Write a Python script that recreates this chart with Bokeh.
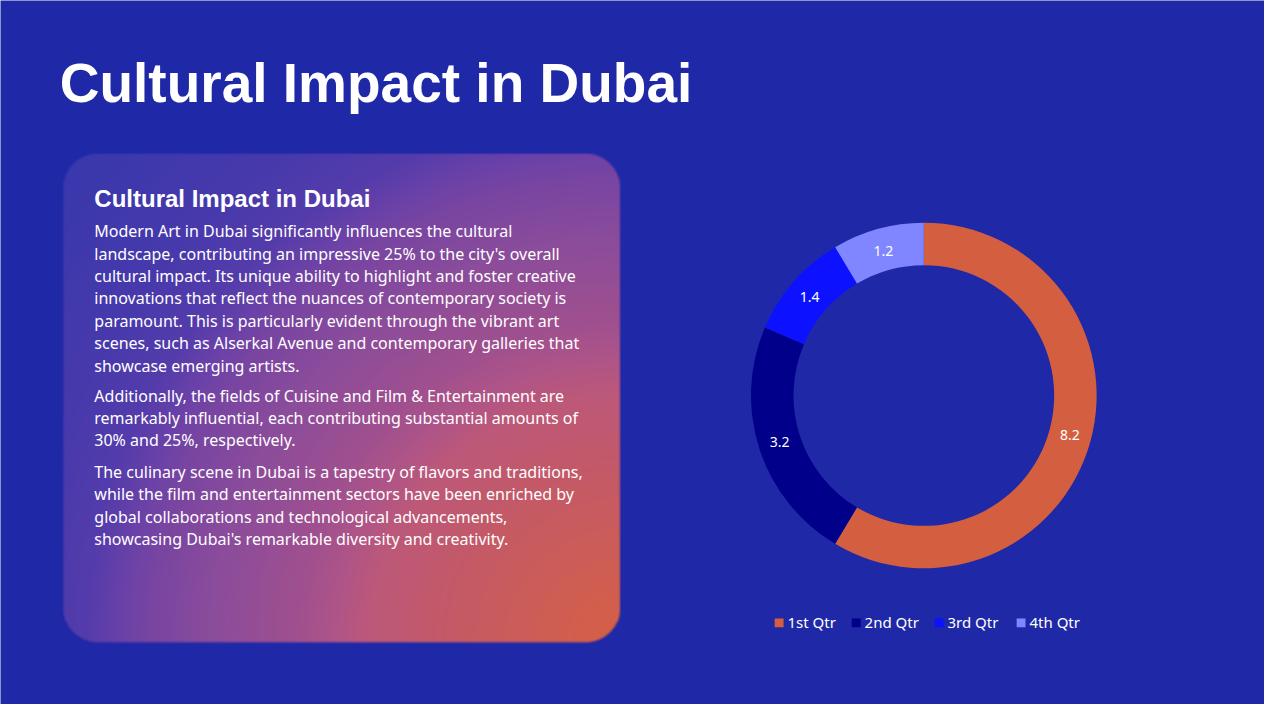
import numpy as np
from bokeh.plotting import figure
from bokeh.models import Range1d
from bokeh.core.properties import value
from bokeh.embed import file_html
from bokeh.resources import INLINE

# --- data ---
quarters = ["1st Qtr", "2nd Qtr", "3rd Qtr", "4th Qtr"]
sales = [8.2, 3.2, 1.4, 1.2]
slice_colors = ["#d35f40", "#00008a", "#0c12ff", "#7f86ff"]

title = "Cultural Impact in Dubai"
card_heading = "Cultural Impact in Dubai"
para1 = [
    "Modern Art in Dubai significantly influences the cultural",
    "landscape, contributing an impressive 25% to the city's overall",
    "cultural impact. Its unique ability to highlight and foster creative",
    "innovations that reflect the nuances of contemporary society is",
    "paramount. This is particularly evident through the vibrant art",
    "scenes, such as Alserkal Avenue and contemporary galleries that",
    "showcase emerging artists.",
]
para2 = [
    "Additionally, the fields of Cuisine and Film & Entertainment are",
    "remarkably influential, each contributing substantial amounts of",
    "30% and 25%, respectively.",
]
para3 = [
    "The culinary scene in Dubai is a tapestry of flavors and traditions,",
    "while the film and entertainment sectors have been enriched by",
    "global collaborations and technological advancements,",
    "showcasing Dubai's remarkable diversity and creativity.",
]

BG = "#1f28a6"
W_SLIDE, H_SLIDE = 1280, 720


def Y(sy):
    # slide y (top-down) -> data y (bottom-up)
    return H_SLIDE - sy


# the whole 1280x720 slide is mapped onto the figure
p = figure(
    width=1264,
    height=704,
    x_range=Range1d(0, W_SLIDE),
    y_range=Range1d(0, H_SLIDE),
    output_backend="svg",
    toolbar_location=None,
    x_axis_location=None,
    y_axis_location=None,
    min_border=0,
    background_fill_color=BG,
    border_fill_color=BG,
    outline_line_color=None,
)
p.grid.visible = False

# --- gradient card (rounded, soft edges), orange glow from the bottom-right ---
cx0, cy0, cw, ch, rad = 62, 156, 566, 502, 36
xs = np.arange(cw) + 0.5
ys = np.arange(ch) + 0.5
X, Yg = np.meshgrid(xs, ys)
d = np.sqrt((cw - X) ** 2 + (ch - Yg) ** 2)
stops = [0, 178, 258, 288, 328, 417, 478, 502, 540, 600, 730]
reds = [215, 196, 188, 176, 160, 138, 120, 108, 85, 72, 58]
greens = [96, 90, 88, 85, 80, 76, 69, 66, 60, 58, 56]
blues = [68, 104, 122, 136, 143, 156, 162, 168, 171, 172, 173]
R = np.interp(d, stops, reds)
G = np.interp(d, stops, greens)
B = np.interp(d, stops, blues)

# rounded rect mask
qx = np.abs(X - cw / 2) - (cw / 2 - rad)
qy = np.abs(Yg - ch / 2) - (ch / 2 - rad)
outside = np.sqrt(np.maximum(qx, 0) ** 2 + np.maximum(qy, 0) ** 2) + np.minimum(np.maximum(qx, qy), 0) - rad
alpha = np.clip((-outside) / 3.0, 0, 1)

img = np.empty((ch, cw), dtype=np.uint32)
view = img.view(dtype=np.uint8).reshape((ch, cw, 4))
view[..., 0] = R.astype(np.uint8)
view[..., 1] = G.astype(np.uint8)
view[..., 2] = B.astype(np.uint8)
view[..., 3] = (alpha * 255).astype(np.uint8)
p.image_rgba(image=[img[::-1]], x=cx0, y=Y(cy0 + ch), dw=cw, dh=ch)

# --- title ---
p.text(x=[60], y=[Y(84)], text=[title], text_font=value("Liberation Sans"),
       text_font_style="bold", text_font_size="55px", text_color="white",
       text_baseline="middle")

# --- card text ---
p.text(x=[95], y=[Y(203)], text=[card_heading], text_font=value("Liberation Sans"),
       text_font_style="bold", text_font_size="24px", text_color="white",
       text_baseline="middle")

body_font = value("Noto Sans")
for lines, top in ((para1, 236), (para2, 404), (para3, 482)):
    p.text(x=[95] * len(lines), y=[Y(top + i * 22.9) for i in range(len(lines))],
           text=lines, text_font=body_font, text_font_size="16px",
           text_color="white", text_baseline="middle")

# --- donut ---
dcx, dcy, r_in, r_out = 935, 404, 132, 175
total = sum(sales)
fracs = np.array(sales) / total
ends = np.cumsum(fracs)
starts = ends - fracs
start_ang = np.pi / 2 - 2 * np.pi * starts
end_ang = np.pi / 2 - 2 * np.pi * ends
p.annular_wedge(x=dcx, y=Y(dcy), inner_radius=r_in, outer_radius=r_out,
                start_angle=start_ang, end_angle=end_ang, direction="clock",
                fill_color=slice_colors, line_color=None)

mid = (start_ang + end_ang) / 2
r_lab = (r_in + r_out) / 2
p.text(x=dcx + r_lab * np.cos(mid), y=Y(dcy) + r_lab * np.sin(mid),
       text=[f"{v:g}" for v in sales], text_font=body_font, text_font_size="14px",
       text_color="white", text_align="center", text_baseline="middle")

# --- legend ---
leg_x = [784, 862, 946, 1029]
p.rect(x=[lx + 4.5 for lx in leg_x], y=[Y(636.5)] * 4, width=9, height=9,
       fill_color=slice_colors, line_color=None)
p.text(x=[lx + 13 for lx in leg_x], y=[Y(636)] * 4, text=quarters,
       text_font=body_font, text_font_size="15px", text_color="white",
       text_baseline="middle")

open("out.html", "w").write(file_html(p, INLINE))
